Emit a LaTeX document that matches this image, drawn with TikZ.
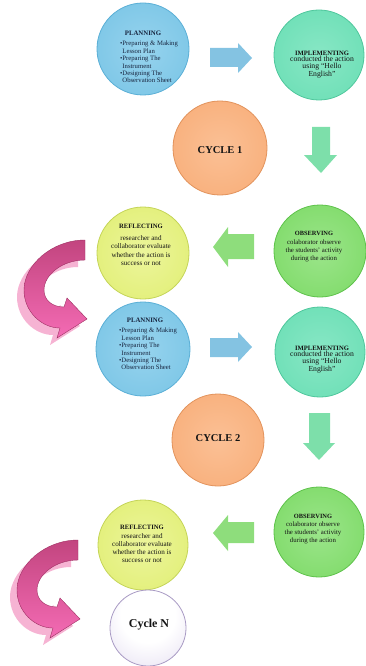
\documentclass[tikz,border=0pt]{standalone}
\usepackage{fontspec}
\setmainfont{Liberation Serif}
\definecolor{planBase}{HTML}{7CC6E6}
\definecolor{planIn}{HTML}{96D3EE}
\definecolor{planEdge}{HTML}{5AAFD6}
\definecolor{implBase}{HTML}{6DDFB6}
\definecolor{implIn}{HTML}{88E7C5}
\definecolor{implEdge}{HTML}{4FC79C}
\definecolor{cycBase}{HTML}{F8AF7B}
\definecolor{cycIn}{HTML}{FBC095}
\definecolor{cycEdge}{HTML}{E2935C}
\definecolor{reflBase}{HTML}{E2EF78}
\definecolor{reflIn}{HTML}{ECF59B}
\definecolor{reflEdge}{HTML}{C4D458}
\definecolor{obsBase}{HTML}{80DB6A}
\definecolor{obsIn}{HTML}{9BE58A}
\definecolor{obsEdge}{HTML}{5EC24B}
\definecolor{cnBase}{HTML}{DED6EE}
\definecolor{cnDeep}{HTML}{C9BCE0}
\definecolor{cnEdge}{HTML}{A99BC4}
\definecolor{arrBlue}{HTML}{84C3E2}
\definecolor{arrMint}{HTML}{7DDFAA}
\definecolor{arrGreen}{HTML}{8EDD7C}
\definecolor{pinkDark}{HTML}{C2457F}
\definecolor{pinkBright}{HTML}{F46BB4}
\definecolor{pinkShadow}{HTML}{F6B3D3}
\definecolor{pinkLine}{HTML}{9E2F62}
\definecolor{txt}{HTML}{141414}
\definecolor{txtBlue}{HTML}{18253F}
\pgfdeclareradialshading{planS}{\pgfpoint{0bp}{0bp}}{color(0bp)=(planIn); color(30bp)=(planBase); color(46bp)=(planBase); color(50bp)=(planEdge)}
\pgfdeclareradialshading{implS}{\pgfpoint{0bp}{0bp}}{color(0bp)=(implIn); color(30bp)=(implBase); color(46bp)=(implBase); color(50bp)=(implEdge)}
\pgfdeclareradialshading{cycS}{\pgfpoint{0bp}{0bp}}{color(0bp)=(cycIn); color(30bp)=(cycBase); color(46bp)=(cycBase); color(50bp)=(cycEdge)}
\pgfdeclareradialshading{reflS}{\pgfpoint{0bp}{0bp}}{color(0bp)=(reflIn); color(30bp)=(reflBase); color(46bp)=(reflBase); color(50bp)=(reflEdge)}
\pgfdeclareradialshading{obsS}{\pgfpoint{0bp}{0bp}}{color(0bp)=(obsIn); color(30bp)=(obsBase); color(46bp)=(obsBase); color(50bp)=(obsEdge)}
\pgfdeclareradialshading{cnS}{\pgfpoint{0bp}{12bp}}{color(0bp)=(white); color(18bp)=(white); color(46bp)=(cnBase); color(62bp)=(cnDeep)}
\begin{document}
\begin{tikzpicture}[x=1pt,y=-1pt,
  bubble/.style={circle, inner sep=0pt, line width=0.8pt},
  ttl/.style={inner sep=0pt, text=txt, font=\bfseries\fontsize{6.6}{7}\selectfont},
  plist/.style={inner sep=0pt, text=txtBlue, font=\fontsize{6.7}{7.4}\selectfont},
  ibody/.style={inner sep=0pt, text=txt, align=center, font=\fontsize{7.7}{7}\selectfont},
  rbody/.style={inner sep=0pt, text=txt, align=center, font=\fontsize{7.1}{8.2}\selectfont},
  obody/.style={inner sep=0pt, text=txt, align=center, font=\fontsize{6.8}{8}\selectfont},
  cyc/.style={inner sep=0pt, text=txt, font=\bfseries\fontsize{10.5}{11}\selectfont},
  pinkribbon/.pic={
    \fill[pinkShadow, shift={(-7,7)}] (0,0) .. controls (-33,0) and (-61,25) .. (-61,50) .. controls (-61,72) and (-43,88) .. (-25,88) -- (-28,98) -- (2,79) -- (-18,58) -- (-21,67) .. controls (-33,67) and (-41,60) .. (-41,50) .. controls (-41,35) and (-23,20) .. (0,20) -- cycle;
    \shade[top color=pinkDark, bottom color=pinkBright, draw=pinkLine, line width=0.4pt] (0,0) .. controls (-33,0) and (-61,25) .. (-61,50) .. controls (-61,72) and (-43,88) .. (-25,88) -- (-28,98) -- (2,79) -- (-18,58) -- (-21,67) .. controls (-33,67) and (-41,60) .. (-41,50) .. controls (-41,35) and (-23,20) .. (0,20) -- cycle;
  }]
\useasboundingbox (0,0) rectangle (365,666);

% ---------- circles ----------
\node[bubble, minimum size=92pt, shading=planS, draw=planEdge] (p1) at (143,49) {};
\node[bubble, minimum size=90pt, shading=implS, draw=implEdge] (i1) at (319,55) {};
\node[bubble, minimum size=94pt, shading=cycS, draw=cycEdge] (c1) at (220,148) {};
\node[bubble, minimum size=92pt, shading=reflS, draw=reflEdge] (r1) at (143,253) {};
\node[bubble, minimum size=92pt, shading=obsS, draw=obsEdge] (o1) at (320,251) {};
\node[bubble, minimum size=94pt, shading=planS, draw=planEdge] (p2) at (143,349) {};
\node[bubble, minimum size=90pt, shading=implS, draw=implEdge] (i2) at (320,352) {};
\node[bubble, minimum size=92pt, shading=cycS, draw=cycEdge] (c2) at (218,440) {};
\node[bubble, minimum size=90pt, shading=reflS, draw=reflEdge] (r2) at (143,545) {};
\node[bubble, minimum size=90pt, shading=obsS, draw=obsEdge] (o2) at (319,532) {};
\node[bubble, minimum size=76pt, shading=cnS, draw=cnEdge] (cn) at (148,628) {};

% ---------- block arrows ----------
\fill[arrBlue] (210,48) -- (238,48) -- (238,43) -- (252,58) -- (238,73) -- (238,67) -- (210,67) -- cycle;
\fill[arrBlue] (210,338) -- (238,338) -- (238,332) -- (252,347) -- (238,362) -- (238,357) -- (210,357) -- cycle;
\fill[arrMint] (312,127) -- (330,127) -- (330,155) -- (337,155) -- (321,173) -- (304,155) -- (312,155) -- cycle;
\fill[arrMint] (309,413) -- (330,413) -- (330,443) -- (335,443) -- (319,460) -- (303,443) -- (309,443) -- cycle;
\fill[arrGreen] (254,234) -- (228,234) -- (228,227) -- (213,247) -- (228,267) -- (228,259) -- (254,259) -- cycle;
\fill[arrGreen] (254,522) -- (228,522) -- (228,515) -- (213,533) -- (228,551) -- (228,543) -- (254,543) -- cycle;

% ---------- curved pink arrows ----------
\pic (pa1) at (85,240) {pinkribbon};
\pic (pa2) at (78,540) {pinkribbon};

% ---------- texts ----------
\node[ttl, font=\bfseries\fontsize{6.8}{7}\selectfont, text=txtBlue] (p1h) at (143,33) {PLANNING};
\node[plist] (p1b) at (149,63) {\begin{tabular}{@{}l@{}l@{}}•&Preparing \& Making\\ &Lesson Plan\\ •&Preparing The\\ &Instrument\\ •&Designing The\\ &Observation Sheet\end{tabular}};

\node[ttl] (i1h) at (322,53) {IMPLEMENTING};
\node[ibody] (i1b) at (322,67) {conducted the action\\using ``Hello\\English''};

\node[cyc] (c1t) at (220,150) {CYCLE 1};

\node[ttl] (r1h) at (141,226) {REFLECTING};
\node[rbody] (r1b) at (141,250.5) {researcher and\\collaborator evaluate\\whether the action is\\success or not};

\node[ttl, font=\bfseries\fontsize{6.4}{7}\selectfont] (o1h) at (314,233) {OBSERVING};
\node[obody] (o1b) at (314,251) {colaborator observe\\the students' activity\\during the action};

\node[ttl, font=\bfseries\fontsize{6.8}{7}\selectfont, text=txtBlue] (p2h) at (145,320) {PLANNING};
\node[plist] (p2b) at (148,350) {\begin{tabular}{@{}l@{}l@{}}•&Preparing \& Making\\ &Lesson Plan\\ •&Preparing The\\ &Instrument\\ •&Designing The\\ &Observation Sheet\end{tabular}};

\node[ttl] (i2h) at (322,348) {IMPLEMENTING};
\node[ibody] (i2b) at (322,362) {conducted the action\\using ``Hello\\English''};

\node[cyc] (c2t) at (218,438) {CYCLE 2};

\node[ttl] (r2h) at (142,527) {REFLECTING};
\node[rbody] (r2b) at (142,548) {researcher and\\collaborator evaluate\\whether the action is\\success or not};

\node[ttl, font=\bfseries\fontsize{6.4}{7}\selectfont] (o2h) at (313,516) {OBSERVING};
\node[obody] (o2b) at (313,533) {colaborator observe\\the students' activity\\during the action};

\node[cyc, font=\bfseries\fontsize{12}{13}\selectfont] (cnt) at (149,625) {Cycle N};
\end{tikzpicture}
\end{document}
